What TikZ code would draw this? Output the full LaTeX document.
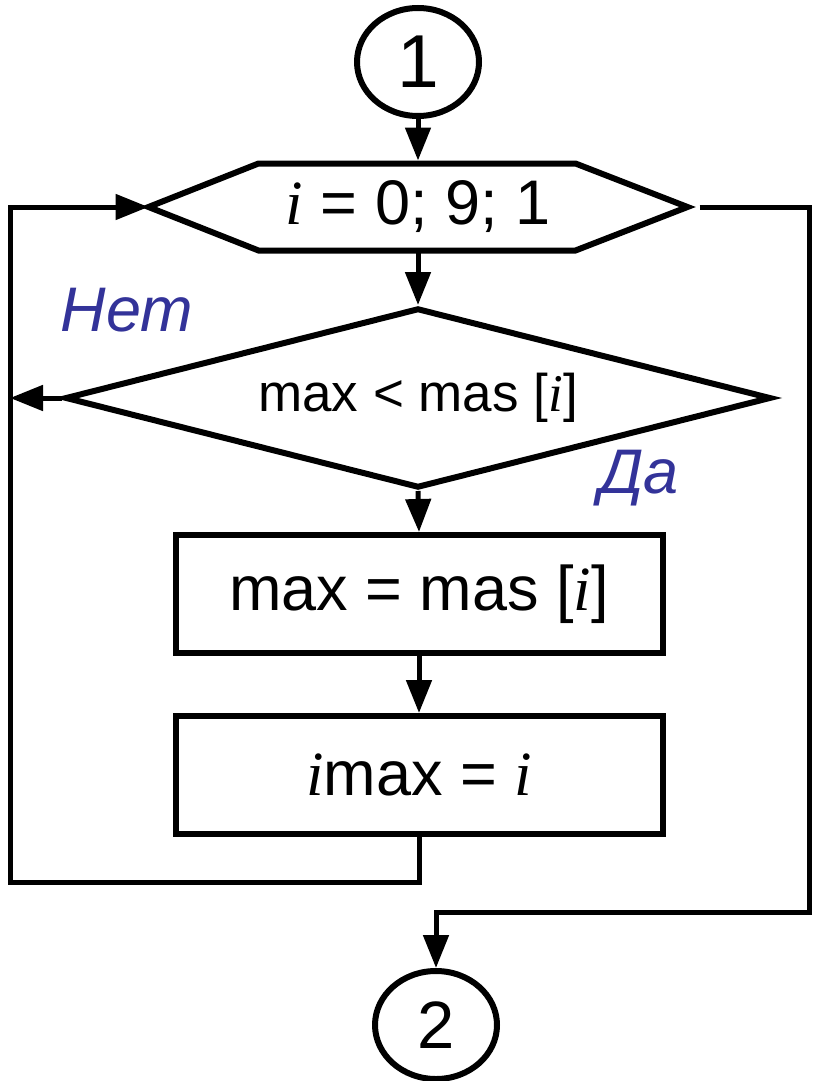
\documentclass[tikz,border=0pt]{standalone}
\usepackage{fontspec}
\setmainfont{Liberation Sans}
\newfontfamily\timesfont{Liberation Serif}
\usepackage{tikz}
\usetikzlibrary{shapes.geometric,arrows.meta,calc}
\definecolor{labelblue}{RGB}{51,51,153}
\newcommand{\ivar}{{\timesfont\itshape i}}

\tikzset{
  shapeline/.style={draw, line width=6pt},
  flowline/.style={line width=5pt, -{Triangle[length=33pt,width=25pt]}},
  bigtext/.style={font=\fontsize{63}{70}\selectfont},
  yesno/.style={font=\fontsize{63}{70}\selectfont\itshape, text=labelblue},
  connector/.style={shapeline, ellipse, minimum width=122pt, minimum height=108pt, inner sep=0pt},
  actionbox/.style={shapeline, rectangle, minimum width=487pt, minimum height=118pt, bigtext},
}

\begin{document}
\begin{tikzpicture}[x=1pt,y=-1pt]
\useasboundingbox (0,0) rectangle (812,1081);

% blocks
\node[connector, font=\fontsize{75}{80}\selectfont] (c1) at (418,62) {1};

\node[bigtext, minimum width=539pt, minimum height=87pt, inner sep=0pt, outer sep=0pt] (loop) at (418,207) {\ivar{} = 0; 9; 1};
\draw[shapeline] (loop.west) -- ([xshift=110pt]loop.north west) -- ([xshift=-112pt]loop.north east) -- (loop.east) -- ([xshift=-112pt]loop.south east) -- ([xshift=110pt]loop.south west) -- cycle;

\node[shapeline, diamond, aspect=3.92, minimum width=706pt, minimum height=180pt, inner sep=0pt, font=\fontsize{53}{60}\selectfont] (cond) at (418,398) {max < mas [\ivar]};

\node[actionbox] (box1) at (419,594) {max = mas [\ivar]};
\node[actionbox] (box2) at (419,775) {\ivar max = \ivar};

\node[connector, font=\fontsize{67}{72}\selectfont] (c2) at (436,1025) {2};

% labels
\node[yesno] (no) at (127,310) {Нет};
\node[yesno] (yes) at (639,478) {Да};

% lines
\coordinate (lb) at (10,882);
\coordinate (rb) at (809,912);

\draw[flowline, shorten >=3pt] (c1.south) -- (loop.north);
\draw[flowline] (loop.south) -- (cond.north);
\draw[flowline] (cond.south) -- (box1.north);
\draw[flowline] (box1.south) -- (box2.north);
\draw[flowline] (box2.south) |- (lb) |- (loop.west);
\draw[flowline] (cond.west) -- (cond.west -| lb);
\draw[flowline] ([xshift=12pt]loop.east) -| (rb) -| (c2.north);
\end{tikzpicture}
\end{document}
